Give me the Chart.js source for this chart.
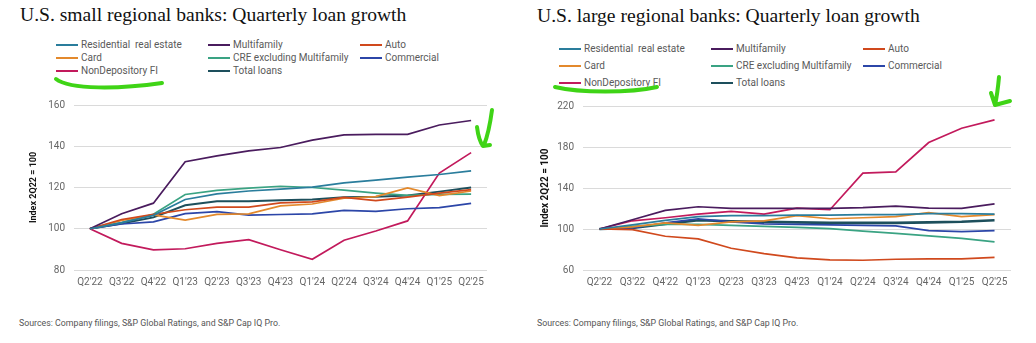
<!DOCTYPE html>
<html>
<head>
<meta charset="utf-8">
<script src="https://cdn.jsdelivr.net/npm/chart.js@4/dist/chart.umd.min.js"></script>
<style>
  body { margin:0; width:1036px; height:343px; background:#fff; position:relative; overflow:hidden; }
  .title { position:absolute; font-family:"Liberation Serif", serif; font-size:19.6px; color:#111; white-space:nowrap; }
  .legend { position:absolute; display:grid; grid-template-columns:152px 152px 152px; font-family:Roboto, sans-serif; font-size:10px; color:#5a5a5a; }
  .legend div { display:flex; align-items:center; white-space:pre; }
  .legend i { display:inline-block; width:22px; height:2px; margin-right:3px; }
  .src { position:absolute; font-family:Roboto, sans-serif; font-size:8.8px; color:#555; white-space:nowrap; }
  canvas { position:absolute; }
  svg { position:absolute; left:0; top:0; pointer-events:none; }
</style>
</head>
<body>

<div class="title" style="left:20px;top:4px">U.S. small regional banks: Quarterly loan growth</div>
<div class="legend" id="legSmall" style="left:56px;top:38px;grid-auto-rows:13px"></div>
<canvas id="chartSmall" width="500" height="205" style="left:0;top:90px"></canvas>
<div class="src" style="left:19px;top:318px">Sources: Company filings, S&amp;P Global Ratings, and S&amp;P Cap IQ Pro.</div>

<div class="title" style="left:537px;top:5px">U.S. large regional banks: Quarterly loan growth</div>
<div class="legend" id="legLarge" style="left:559px;top:40px;grid-auto-rows:17px"></div>
<canvas id="chartLarge" width="518" height="205" style="left:518px;top:90px"></canvas>
<div class="src" style="left:537px;top:318px">Sources: Company filings, S&amp;P Global Ratings, and S&amp;P Cap IQ Pro.</div>

<!-- hand-drawn highlight marks -->
<svg width="1036" height="343">
  <g fill="none" stroke="#3fd416" stroke-width="4" stroke-linecap="round" stroke-linejoin="round">
    <path d="M56 79 C 70 90, 120 89, 162 83"/>
    <path d="M492 110 C 490 125, 488 135, 484 145 M477 127 C 478 135, 480 142, 483 146 L 490 145"/>
    <path d="M555 87 C 580 93, 630 93, 657 87"/>
    <path d="M999 77 C 998 88, 997 96, 995 105 M991 93 L 995 105 L 1010 101"/>
  </g>
</svg>

<script>
// ---- data ----
const quarters = ["Q2'22","Q3'22","Q4'22","Q1'23","Q2'23","Q3'23","Q4'23","Q1'24","Q2'24","Q3'24","Q4'24","Q1'25","Q2'25"];
const seriesNames = ['Residential  real estate','Multifamily','Auto','Card','CRE excluding Multifamily','Commercial','NonDepository FI','Total loans'];
const seriesColors = ['#2a7d9c','#4a1c5e','#d0491d','#e3892c','#3aa383','#2c46a8','#c21a5c','#1d4f5c'];

// small regional banks, index 2Q22 = 100
const smallResidential = [100, 103, 106.5, 114.2, 116.9, 118.3, 119.2, 120.2, 122.2, 123.6, 125, 126.3, 128.1];
const smallMultifamily = [100, 107.3, 112.4, 132.5, 135.3, 137.8, 139.4, 143, 145.5, 145.8, 145.8, 150.3, 152.5];
const smallAuto        = [100, 104.5, 107, 109.2, 110.5, 110.5, 112.5, 113, 115.2, 113.6, 115.3, 117.3, 119];
const smallCard        = [100, 104, 106.7, 104.2, 107, 107.2, 111.1, 112, 114.8, 115.6, 119.8, 116.1, 118.3];
const smallCre         = [100, 103, 107, 116.6, 118.6, 119.7, 120.6, 120, 118.7, 117.3, 116.2, 116.7, 116.8];
const smallCommercial  = [100, 102.3, 103.3, 107.3, 108.3, 106.6, 106.9, 107.2, 108.9, 108.4, 109.7, 110.2, 112.3];
const smallNonDep      = [100, 92.9, 89.8, 90.3, 92.9, 94.7, 89.8, 85.2, 94.4, 98.9, 103.8, 127, 136.9];
const smallTotal       = [100, 102.5, 105.5, 111.4, 113.3, 113.3, 113.8, 114.2, 115.3, 115.5, 116.1, 118, 120];

// large regional banks, index 2Q22 = 100
const largeResidential = [100, 104, 108.5, 112, 113, 113, 113.5, 113.5, 114, 114, 115, 115, 114.6];
const largeMultifamily = [100, 109, 118.2, 121.7, 120.1, 120.1, 120.1, 120.1, 120.8, 122.4, 120.4, 120.1, 124.6];
const largeAuto        = [100, 99.4, 92.9, 90.3, 81.2, 76, 71.8, 69.8, 69.5, 70.5, 70.8, 70.8, 72.4];
const largeCard        = [100, 102, 106, 103.6, 107, 108, 113, 110, 111, 112, 116, 112, 114];
const largeCre         = [100, 102.6, 104.5, 104.5, 103.6, 102.6, 101.6, 100.3, 98, 95.8, 93.2, 90.9, 87.4];
const largeCommercial  = [100, 101, 106, 110, 107, 105, 104.5, 104, 103.5, 103, 98.5, 97.5, 98.5];
const largeNonDep      = [100, 108, 111, 114.6, 117.2, 114.6, 120.4, 118.8, 154.5, 155.8, 184.3, 198.3, 206.4];
const largeTotal       = [100, 101, 105, 108.5, 107.5, 107, 106.5, 106, 106, 106, 106.5, 107, 108.5];

const smallSeries = [smallResidential, smallMultifamily, smallAuto, smallCard, smallCre, smallCommercial, smallNonDep, smallTotal];
const largeSeries = [largeResidential, largeMultifamily, largeAuto, largeCard, largeCre, largeCommercial, largeNonDep, largeTotal];

const SANS = 'Roboto, sans-serif';

function buildLegend(id){
  const el = document.getElementById(id);
  seriesNames.forEach((n, i) => {
    const d = document.createElement('div');
    d.innerHTML = `<i style="background:${seriesColors[i]}"></i>${n}`;
    el.appendChild(d);
  });
}

function makeChart(id, series, yMin, yMax, step, cfg){
  return new Chart(document.getElementById(id), {
    type: 'line',
    data: {
      labels: quarters,
      datasets: series.map((data, i) => ({
        label: seriesNames[i],
        data,
        borderColor: seriesColors[i],
        borderWidth: i === 7 ? cfg.totalWidth : 1.7,
        pointRadius: 0,
        tension: 0,
        fill: false
      }))
    },
    options: {
      responsive: false,
      animation: false,
      layout: { padding: cfg.padding },
      plugins: { legend: { display: false }, tooltip: { enabled: false } },
      scales: {
        x: {
          offset: true,
          grid: { display: false, drawTicks: false },
          border: { display: false },
          ticks: { color: '#666', font: { family: SANS, size: 10 }, padding: 6, maxRotation: 0, autoSkip: false },
          afterFit: s => { s.height = 25; }
        },
        y: {
          min: yMin, max: yMax,
          grid: { color: '#dadada', lineWidth: 1, drawTicks: false },
          border: { display: false },
          ticks: { stepSize: step, color: '#666', font: { family: SANS, size: 10 }, padding: 9 },
          title: { display: true, text: 'Index 2Q22 = 100', color: '#111', font: { family: SANS, size: cfg.titleSize, weight: 'bold' } },
          afterFit: s => { s.width = cfg.yWidth; }
        }
      }
    }
  });
}

buildLegend('legSmall');
buildLegend('legLarge');

makeChart('chartSmall', smallSeries, 80, 160, 20,
  { padding: { left: 24, right: 13, top: 9, bottom: 0 }, yWidth: 50, titleSize: 9, totalWidth: 2 });
makeChart('chartLarge', largeSeries, 60, 220, 40,
  { padding: { left: 17, right: 25, top: 16, bottom: 0 }, yWidth: 48, titleSize: 10, totalWidth: 2.6 });
</script>
</body>
</html>
